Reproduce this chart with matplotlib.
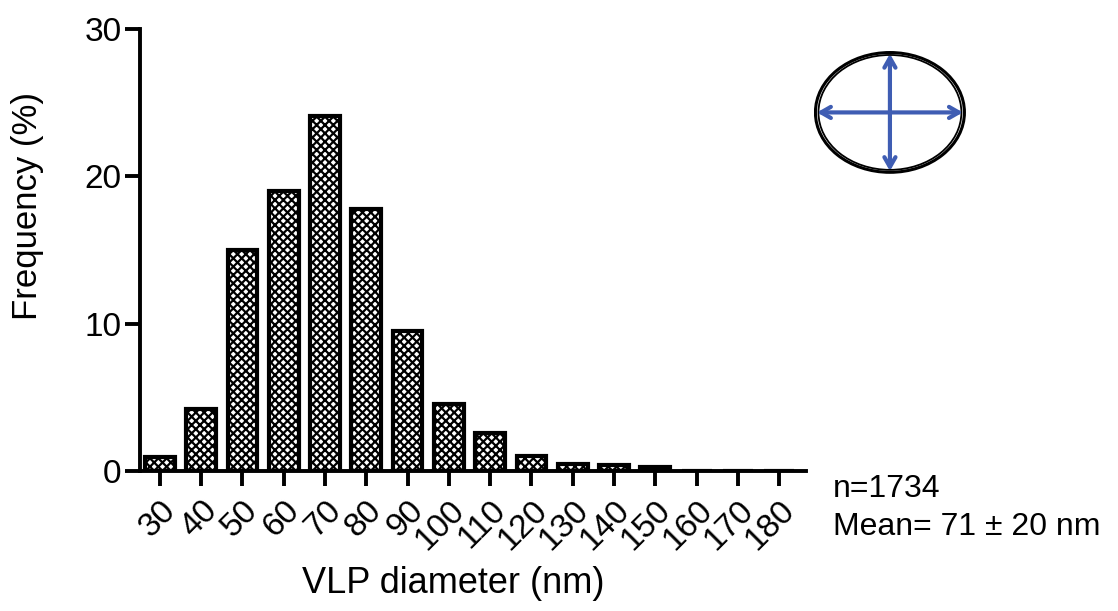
import matplotlib.pyplot as plt
from matplotlib.patches import Ellipse

plt.rcParams['font.family'] = ['Liberation Sans', 'DejaVu Sans']

# Data
diameters = ["30", "40", "50", "60", "70", "80", "90", "100", "110", "120",
             "130", "140", "150", "160", "170", "180"]
frequency = [0.95, 4.2, 15.0, 19.0, 24.1, 17.8, 9.5, 4.55, 2.6, 1.0,
             0.5, 0.4, 0.3, 0.0, 0.0, 0.0]
n_text = "n=1734"
mean_text = "Mean= 71 ± 20 nm"

fig = plt.figure(figsize=(11.18, 6.11), dpi=100)
ax = fig.add_axes([0.125, 0.229, 0.596, 0.724])

plt.rcParams['hatch.linewidth'] = 1.6
x = list(range(len(diameters)))
ax.bar(x, frequency, width=0.72, color="white", edgecolor="black",
       linewidth=3, hatch="xxxx")

ax.set_xlim(-0.485, 15.65)
ax.set_ylim(0, 30)
ax.set_yticks([0, 10, 20, 30])
ax.set_xticks(x)
ax.set_xticklabels(diameters, rotation=45, ha="right", rotation_mode="anchor")

for side in ["top", "right"]:
    ax.spines[side].set_visible(False)
for side in ["left", "bottom"]:
    ax.spines[side].set_linewidth(2.8)
ax.tick_params(axis="both", width=2.8, length=11, labelsize=24, direction="out")
ax.tick_params(axis="x", pad=6)
ax.tick_params(axis="y", pad=2)

ax.set_xlabel("VLP diameter (nm)", fontsize=26)
ax.set_ylabel("Frequency (%)", fontsize=25)
ax.xaxis.set_label_coords(0.47, -0.215)
ax.yaxis.set_label_coords(-0.143, 0.60)

# Notes
fig.text(0.745, 0.20, n_text, fontsize=23, va="center")
fig.text(0.745, 0.138, mean_text, fontsize=23, va="center")

# Ellipse icon
iax = fig.add_axes([0.728, 0.716, 0.136, 0.2])
iax.set_xlim(-1, 1)
iax.set_ylim(-1, 1)
iax.axis("off")
iax.add_patch(Ellipse((0, 0), 1.96, 1.96, fill=False, edgecolor="black", linewidth=2.2))
iax.add_patch(Ellipse((0, 0), 1.88, 1.88, fill=False, edgecolor="black", linewidth=1.3))
blue = "#3F5DB3"
arrow = dict(arrowstyle="<->,head_length=0.7,head_width=0.4", color=blue, lw=3,
             shrinkA=0, shrinkB=0)
iax.annotate("", xy=(-0.96, 0), xytext=(0.96, 0), arrowprops=arrow)
iax.annotate("", xy=(0, -0.96), xytext=(0, 0.96), arrowprops=arrow)

plt.savefig("out.png")
